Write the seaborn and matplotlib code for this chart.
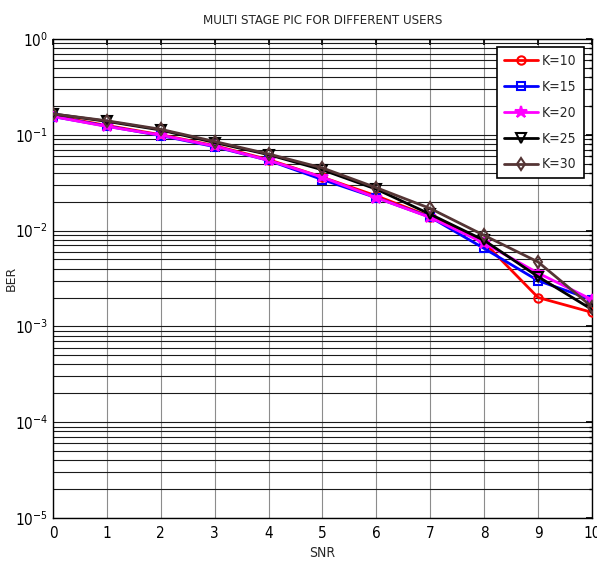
import numpy as np
import pandas as pd
import matplotlib
matplotlib.use("Agg")
import matplotlib.pyplot as plt
import seaborn as sns
from matplotlib.ticker import LogLocator, NullFormatter

snr = [0, 1, 2, 3, 4, 5, 6, 7, 8, 9, 10]
labels = ["K=10", "K=15", "K=20", "K=25", "K=30"]
ber_k10 = [0.158, 0.125, 0.100, 0.077, 0.055, 0.036, 0.023, 0.0140, 0.0075, 0.0020, 0.00140]
ber_k15 = [0.155, 0.123, 0.098, 0.075, 0.054, 0.034, 0.022, 0.0138, 0.0065, 0.0030, 0.0019]
ber_k20 = [0.155, 0.122, 0.099, 0.076, 0.054, 0.036, 0.022, 0.0137, 0.0074, 0.0036, 0.0019]
ber_k25 = [0.165, 0.138, 0.112, 0.083, 0.062, 0.043, 0.027, 0.0148, 0.0079, 0.0033, 0.0015]
ber_k30 = [0.165, 0.140, 0.114, 0.085, 0.063, 0.045, 0.028, 0.0170, 0.0089, 0.0047, 0.0016]
series = [ber_k10, ber_k15, ber_k20, ber_k25, ber_k30]

colors = ["#ff0000", "#0000ff", "#ff00ff", "#000000", "#553535"]
markers = ["o", "s", "*", "v", "d"]
mfcs = ["none", "none", "#ff00ff", "none", "none"]
msizes = [6, 6, 9, 7, 6]

sns.set_theme(style="white")
plt.rcParams["font.family"] = ["DejaVu Sans"]
plt.rcParams["font.stretch"] = "condensed"

fig = plt.figure(figsize=(5.97, 5.63), dpi=100)
ax = fig.add_axes([0.0888, 0.0800, 0.9028, 0.8508])

for lab, vals, c, m, mfc, ms in zip(labels, series, colors, markers, mfcs, msizes):
    df = pd.DataFrame({"SNR": snr, "BER": vals})
    sns.lineplot(data=df, x="SNR", y="BER", ax=ax, color=c, marker=m,
                 markersize=ms, markerfacecolor=mfc, markeredgecolor=c,
                 markeredgewidth=1.5, linewidth=2, label=lab, zorder=3)

ax.set_yscale("log")
ax.set_ylim(1e-5, 1)
ax.set_xlim(0, 10)
ax.set_xticks(range(0, 11))
ax.yaxis.set_major_locator(LogLocator(base=10, numticks=10))
ax.yaxis.set_minor_locator(LogLocator(base=10, subs=np.arange(2, 10), numticks=20))
ax.yaxis.set_minor_formatter(NullFormatter())

ax.grid(True, axis="x", which="major", color="#8c8c8c", linewidth=0.8, linestyle="-")
ax.grid(True, axis="y", which="both", color="#1a1a1a", linewidth=0.8, linestyle="-")
ax.set_axisbelow(True)

ax.tick_params(axis="both", which="both", direction="in", top=True, right=True,
               labelsize=11, colors="black", length=4)
ax.tick_params(axis="x", which="major", pad=6)
ax.tick_params(axis="y", which="minor", length=2.5)
for s in ax.spines.values():
    s.set_color("black")
    s.set_linewidth(1)

ax.set_xlabel("SNR", fontsize=10)
ax.xaxis.set_label_coords(0.5, -0.058)
ax.set_ylabel("BER", fontsize=9, fontstretch="normal")
ax.yaxis.set_label_coords(-0.065, 0.5)
ax.set_title("MULTI STAGE PIC FOR DIFFERENT USERS", fontsize=9.5, pad=11)

leg = ax.legend(loc="upper right", fontsize=10, frameon=True, fancybox=False,
                edgecolor="black", framealpha=1, handlelength=2.45,
                borderaxespad=0.6, labelspacing=0.85, handletextpad=0.3,
                borderpad=0.5)
leg.get_frame().set_linewidth(1.2)

fig.savefig("out.png", dpi=100)
